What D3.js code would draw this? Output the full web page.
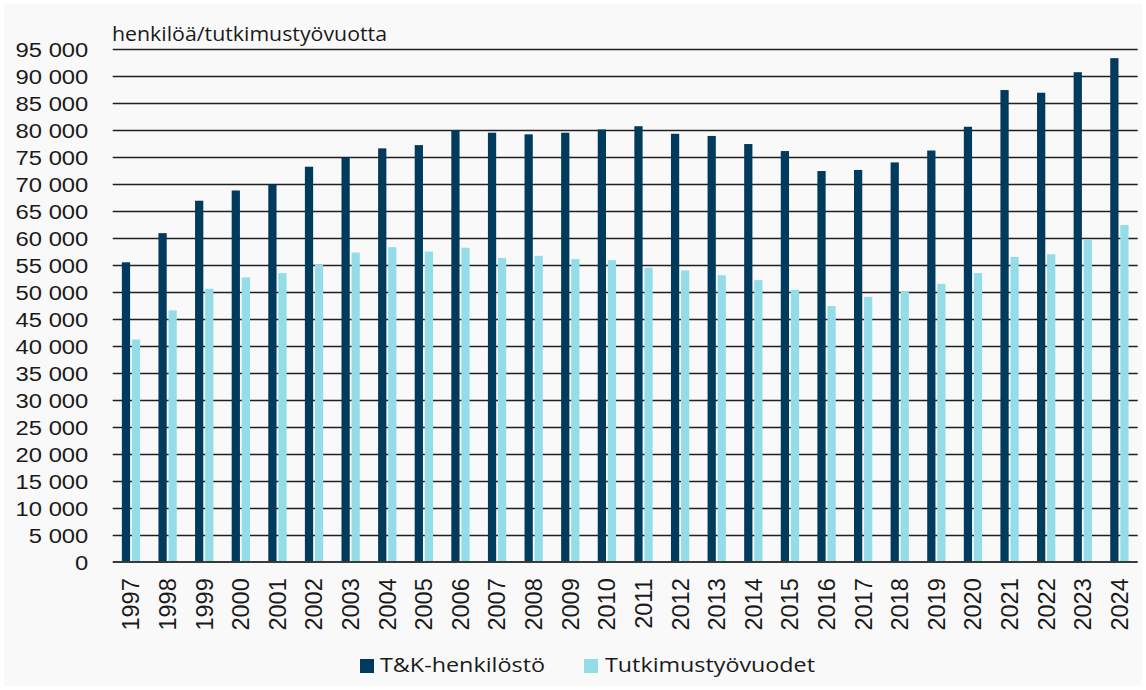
<!DOCTYPE html>
<html>
<head>
<meta charset="utf-8">
<script src="https://cdn.jsdelivr.net/npm/d3@7"></script>
<style>
  html, body { margin: 0; padding: 0; background: #ffffff; }
  svg { display: block; }
</style>
</head>
<body>
<svg id="chart" width="1146" height="690"></svg>
<script>
// T&K-henkilöstö ja tutkimustyövuodet 1997–2024
const years = ["1997","1998","1999","2000","2001","2002","2003","2004","2005","2006",
               "2007","2008","2009","2010","2011","2012","2013","2014","2015","2016",
               "2017","2018","2019","2020","2021","2022","2023","2024"];
const seriesNames = ["T&K-henkilöstö", "Tutkimustyövuodet"];
const henkilosto = [55500, 60900, 66900, 68800, 69900, 73200, 74900, 76600, 77200, 80000,
                    79500, 79200, 79500, 80100, 80700, 79300, 78900, 77400, 76100, 72400,
                    72600, 74000, 76200, 80600, 87400, 86900, 90700, 93300];
const tutkimustyovuodet = [41200, 46600, 50600, 52700, 53500, 55000, 57300, 58300, 57500, 58200,
                           56300, 56700, 56100, 55900, 54500, 54000, 53100, 52200, 50400, 47400,
                           49100, 50000, 51500, 53500, 56500, 57000, 59700, 62400];
const yTickValues = [0, 5000, 10000, 15000, 20000, 25000, 30000, 35000, 40000, 45000,
                     50000, 55000, 60000, 65000, 70000, 75000, 80000, 85000, 90000, 95000];
const unitLabel = "henkilöä/tutkimustyövuotta";

const colors = { "T&K-henkilöstö": "#003a5d", "Tutkimustyövuodet": "#94dde8" };

const W = 1146, H = 690;
const plot = { left: 112.7, right: 1137.7, top: 49, bottom: 562 };

const svg = d3.select("#chart");

// page background with a thin lighter frame
svg.append("rect").attr("width", W).attr("height", H).attr("fill", "#ffffff");
svg.append("rect").attr("x", 4).attr("y", 4).attr("width", W - 8).attr("height", H - 8)
   .attr("fill", "#f9f9f9");

const rows = years.map((y, i) => ({
  year: y,
  values: [
    { key: seriesNames[0], value: henkilosto[i] },
    { key: seriesNames[1], value: tutkimustyovuodet[i] }
  ]
}));

const x = d3.scaleBand().domain(years).range([plot.left, plot.right])
  .paddingInner(0.5).paddingOuter(0.25);
const x1 = d3.scaleBand().domain(seriesNames).range([0, x.bandwidth()]).paddingInner(0.18);
const y = d3.scaleLinear().domain([0, 95000]).range([plot.bottom, plot.top]);

const fmt = d3.formatLocale({ decimal: ",", thousands: " ", grouping: [3], currency: ["", " €"] }).format(",d");

// horizontal gridlines
const grid = svg.append("g").attr("transform", `translate(${plot.left},0)`)
  .call(d3.axisLeft(y).tickValues(yTickValues.filter(v => v > 0))
        .tickSize(-(plot.right - plot.left)).tickFormat(""));
grid.select(".domain").remove();
grid.selectAll(".tick line").attr("stroke", "#202020").attr("stroke-width", 1.6);

// bars
const groups = svg.append("g").selectAll("g").data(rows).join("g")
  .attr("transform", d => `translate(${x(d.year)},0)`);
groups.selectAll("rect").data(d => d.values).join("rect")
  .attr("x", d => x1(d.key))
  .attr("width", x1.bandwidth())
  .attr("y", d => y(d.value))
  .attr("height", d => y(0) - y(d.value))
  .attr("fill", d => colors[d.key]);

// baseline
svg.append("line")
  .attr("x1", plot.left).attr("x2", plot.right)
  .attr("y1", y(0)).attr("y2", y(0))
  .attr("stroke", "#3a3a3a").attr("stroke-width", 1.8);

// y axis labels
const yAxis = svg.append("g").attr("transform", `translate(${plot.left},0)`)
  .call(d3.axisLeft(y).tickValues(yTickValues).tickSize(0).tickFormat(d => fmt(d)));
yAxis.select(".domain").remove();
yAxis.selectAll(".tick text")
  .attr("x", null).attr("dy", null)
  .attr("transform", "translate(-24.4,7.3) scale(1.16,1)")
  .attr("text-anchor", "end")
  .attr("fill", "#1a1a1a")
  .style("font-family", "'Liberation Sans', Arial, sans-serif")
  .style("font-size", "20.5px");

// x axis labels (rotated years)
const capH = 23.5 * 0.716;
const xAxis = svg.append("g").attr("transform", `translate(0,${plot.bottom})`)
  .call(d3.axisBottom(x).tickSize(0));
xAxis.select(".domain").remove();
xAxis.selectAll(".tick text")
  .attr("x", null).attr("y", null).attr("dy", null)
  .attr("transform", `translate(${capH / 2},16.3) rotate(-90)`)
  .attr("text-anchor", "end")
  .attr("fill", "#1a1a1a")
  .style("font-family", "'Liberation Sans', Arial, sans-serif")
  .style("font-size", "23.5px");

// unit label
svg.append("text")
  .attr("x", 112).attr("y", 40.5)
  .attr("textLength", 275).attr("lengthAdjust", "spacingAndGlyphs")
  .attr("fill", "#1a1a1a")
  .style("font-family", "'Open Sans', sans-serif")
  .style("font-size", "19.5px")
  .text(unitLabel);

// legend
const legendItems = [
  { key: seriesNames[0], sx: 360, tx: 380, len: 165 },
  { key: seriesNames[1], sx: 584, tx: 605, len: 210 }
];
const legend = svg.append("g");
legend.selectAll("rect").data(legendItems).join("rect")
  .attr("x", d => d.sx).attr("y", 659).attr("width", 14).attr("height", 14)
  .attr("fill", d => colors[d.key]);
legend.selectAll("text").data(legendItems).join("text")
  .attr("x", d => d.tx).attr("y", 672)
  .attr("textLength", d => d.len).attr("lengthAdjust", "spacingAndGlyphs")
  .attr("fill", "#1a1a1a")
  .style("font-family", "'Open Sans', sans-serif")
  .style("font-size", "19.5px")
  .text(d => d.key);
</script>
</body>
</html>
